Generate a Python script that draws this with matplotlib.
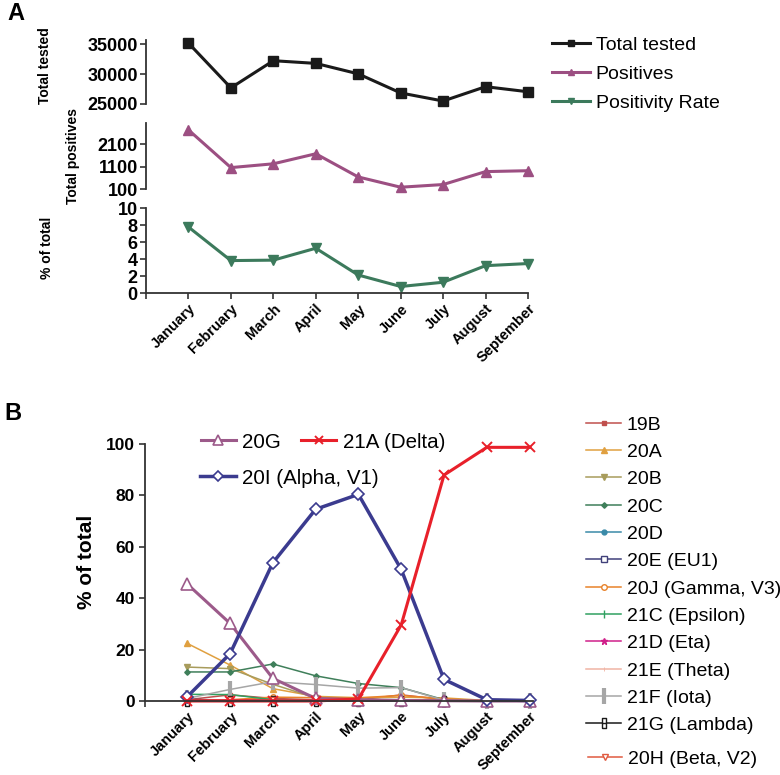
import matplotlib
matplotlib.use('Agg')
import matplotlib.pyplot as plt
from matplotlib.path import Path
import numpy as np

plt.rcParams['font.family'] = ['Liberation Sans', 'DejaVu Sans']

months = ['January', 'February', 'March', 'April', 'May', 'June', 'July', 'August', 'September']

# Panel A
total_tested = [35200, 27700, 32250, 31800, 30050, 26850, 25500, 27900, 27050]
positives = [2750, 1060, 1230, 1680, 640, 180, 300, 880, 920]
positivity_rate = [7.8, 3.85, 3.9, 5.3, 2.15, 0.8, 1.3, 3.25, 3.5]

# Panel B (% of total per clade)
c19B = [0.5, 2.4, 1.0, 0.5, 0.4, 2.4, 0.5, 0.1, 0.2]
c20A = [22.4, 14.0, 4.8, 1.8, 1.3, 1.5, 1.2, 0.2, 0.2]
c20B = [13.2, 12.6, 6.5, 1.2, 0.6, 0.5, 0.5, 0.0, 0.0]
c20C = [11.3, 11.3, 14.4, 9.8, 6.8, 5.2, 0.5, 0.0, 0.0]
c20D = [0.2, 0.3, 0.2, 0.1, 0.0, 0.0, 0.0, 0.0, 0.0]
c20E = [0.6, 0.4, 0.3, 0.2, 0.1, 0.0, 0.0, 0.0, 0.0]
c20J = [0.0, 0.5, 1.5, 1.3, 1.2, 2.2, 0.8, 0.1, 0.5]
c21C = [2.6, 2.5, 0.5, 0.2, 0.1, 0.0, 0.0, 0.0, 0.0]
c21D = [0.0, 0.4, 0.2, 0.2, 0.1, 0.1, 0.0, 0.0, 0.0]
c21E = [0.0, 0.0, 0.0, 0.0, 0.0, 0.0, 0.0, 0.0, 0.0]
c21F = [1.0, 4.5, 7.5, 6.4, 5.0, 5.2, 0.3, 0.0, 0.0]
c21G = [0.0, 0.0, 0.0, 0.0, 0.0, 0.0, 0.0, 0.0, 0.0]
c20H = [0.3, 0.3, 0.3, 0.2, 0.1, 0.5, 0.1, 0.0, 0.0]
c20G = [45.5, 30.2, 8.8, 1.0, 0.5, 0.2, 0.1, 0.0, 0.0]
c20I = [1.7, 18.4, 53.8, 74.6, 80.4, 51.2, 8.4, 0.5, 0.2]
c21A = [0.0, 0.0, 0.0, 0.0, 0.8, 29.6, 87.9, 98.7, 98.7]

W, H = 780, 775
fig = plt.figure(figsize=(W / 100, H / 100), dpi=100)
fig.patch.set_facecolor('white')


def box(x0, y0, x1, y1):
    return [x0 / W, 1 - y1 / H, (x1 - x0) / W, (y1 - y0) / H]


SPC = '#333333'
x = np.arange(len(months))


def style(ax, bottom=True):
    for s in ['top', 'right']:
        ax.spines[s].set_visible(False)
    ax.spines['left'].set_color(SPC)
    ax.spines['left'].set_linewidth(1.3)
    ax.spines['bottom'].set_color(SPC)
    ax.spines['bottom'].set_linewidth(1.3)
    ax.tick_params(direction='out', length=4, width=1.2, color=SPC, pad=2)
    if not bottom:
        ax.spines['bottom'].set_visible(False)
        ax.set_xticks([])


def boldify(labels):
    for lab in labels:
        lab.set_fontweight('bold')


ax1 = fig.add_axes(box(146, 39.5, 528, 104))
ax2 = fig.add_axes(box(146, 123, 528, 189))
ax3 = fig.add_axes(box(146, 208.3, 528, 293.3))

for ax in (ax1, ax2, ax3):
    ax.set_xlim(-1, 8)
    ax.set_facecolor('none')
style(ax1, False)
style(ax2, False)
style(ax3, True)

BLACK = '#1a1a1a'
MAUVE = '#9c4f82'
GREEN = '#3c7a5c'

l1, = ax1.plot(x, total_tested, color=BLACK, lw=2.2, marker='s', ms=6.5, label='Total tested', clip_on=False)
l2, = ax2.plot(x, positives, color=MAUVE, lw=2.2, marker='^', ms=6.5, label='Positives', clip_on=False)
l3, = ax3.plot(x, positivity_rate, color=GREEN, lw=2.2, marker='v', ms=6.5, label='Positivity Rate', clip_on=False)

ax1.set_ylim(25000, 35800)
ax1.set_yticks([25000, 30000, 35000])
ax2.set_ylim(100, 3060)
ax2.set_yticks([100, 1100, 2100])
ax3.set_ylim(0, 10)
ax3.set_yticks([0, 2, 4, 6, 8, 10])
for ax in (ax1, ax2, ax3):
    ax.tick_params(axis='y', labelsize=13)
    boldify(ax.get_yticklabels())

ax3.set_xticks(np.arange(-1, 9))
ax3.set_xticklabels([''] + months, rotation=45, ha='right', va='top',
                    rotation_mode='anchor', fontsize=10.5, fontweight='bold')

fig.text(45 / W, 1 - 66 / H, 'Total tested', rotation=90, ha='center', va='center',
         fontsize=10, fontweight='bold')
fig.text(73 / W, 1 - 156 / H, 'Total positives', rotation=90, ha='center', va='center',
         fontsize=10, fontweight='bold')
fig.text(47 / W, 1 - 248 / H, '% of total', rotation=90, ha='center', va='center',
         fontsize=10, fontweight='bold')
fig.text(16 / W, 1 - 13 / H, 'A', ha='center', va='center', fontsize=17, fontweight='bold')
fig.text(13 / W, 1 - 413 / H, 'B', ha='center', va='center', fontsize=17, fontweight='bold')

legA = fig.legend(handles=[l1, l2, l3], loc='upper left', bbox_to_anchor=(552 / W, 1 - 36 / H),
                  frameon=False, fontsize=14, borderpad=0, borderaxespad=0,
                  handlelength=1.95, handletextpad=0.3, labelspacing=0.6, markerscale=0.75)

# Panel B
axB = fig.add_axes(box(144.5, 444, 533, 701))
style(axB, True)
axB.set_xlim(-1, 8.08)
axB.set_ylim(0, 100)
axB.set_yticks([0, 20, 40, 60, 80, 100])
axB.tick_params(axis='y', labelsize=12.5, pad=3)
boldify(axB.get_yticklabels())
axB.set_xticks(np.arange(-1, 9))
axB.set_xticklabels([''] + months, rotation=45, ha='right', va='top',
                    rotation_mode='anchor', fontsize=10.5, fontweight='bold')
fig.text(86 / W, 1 - 562 / H, '% of total', rotation=90, ha='center', va='center',
         fontsize=15, fontweight='bold')

lam_marker = Path([(-0.45, -1), (0.45, -1), (0.45, 1), (-0.45, 1), (-0.45, -1), (-0.45, 0), (0.45, 0)],
                  [Path.MOVETO, Path.LINETO, Path.LINETO, Path.LINETO, Path.LINETO, Path.MOVETO, Path.LINETO])

minor = [
    ('19B', c19B, dict(color='#c0504d', marker='s', ms=3.5)),
    ('20A', c20A, dict(color='#e0a040', marker='^', ms=4)),
    ('20B', c20B, dict(color='#a89c5c', marker='v', ms=4)),
    ('20C', c20C, dict(color='#3f7f5a', marker='D', ms=2.8)),
    ('20D', c20D, dict(color='#3a8aa8', marker='o', ms=3.5)),
    ('20E (EU1)', c20E, dict(color='#40407a', marker='s', ms=4, mfc='white')),
    ('20J (Gamma, V3)', c20J, dict(color='#e8822a', marker='o', ms=4, mfc='white')),
    ('21C (Epsilon)', c21C, dict(color='#30a060', marker='|', ms=6, mew=1)),
    ('21D (Eta)', c21D, dict(color='#d0208a', marker='*', ms=5)),
    ('21E (Theta)', c21E, dict(color='#f0b4a4', marker='|', ms=3, mew=0.6)),
    ('21F (Iota)', c21F, dict(color='#a6a6a6', marker='|', ms=11, mew=3)),
    ('21G (Lambda)', c21G, dict(color='#1a1a1a', marker=lam_marker, ms=6.5, mfc='white', mew=1)),
]
handles_minor = []
for name, vals, kw in minor:
    h, = axB.plot(x, vals, lw=1.1, label=name, clip_on=False, **kw)
    handles_minor.append(h)
h20H, = axB.plot(x, c20H, lw=1.1, color='#e05a40', marker='v', ms=5, mfc='white',
                 label='20H (Beta, V2)', clip_on=False)

h20G, = axB.plot(x, c20G, lw=2.2, color='#9c5a8a', marker='^', ms=8, mfc='white', mew=1.2,
                 label='20G', clip_on=False)
h20I, = axB.plot(x, c20I, lw=2.5, color='#3b3b8f', marker='D', ms=6.5, mfc='white', mew=1.2,
                 label='20I (Alpha, V1)', clip_on=False)
h21A, = axB.plot(x, c21A, lw=2.2, color='#e8202a', marker='x', ms=7, mew=1.4,
                 label='21A (Delta)', clip_on=False)

legB1 = fig.legend(handles=[h20G, h21A], loc='center left', bbox_to_anchor=(201 / W, 1 - 442 / H),
                   ncol=2, frameon=False, fontsize=14.8, borderpad=0, borderaxespad=0,
                   handlelength=1.7, handletextpad=0.3, columnspacing=1.0, markerscale=0.85)
legB2 = fig.legend(handles=[h20I], loc='center left', bbox_to_anchor=(200 / W, 1 - 478 / H),
                   frameon=False, fontsize=14.8, borderpad=0, borderaxespad=0,
                   handlelength=1.75, handletextpad=0.3, markerscale=0.85)
legR = fig.legend(handles=handles_minor, loc='upper left', bbox_to_anchor=(586 / W, 1 - 416 / H),
                  frameon=False, fontsize=14, borderpad=0, borderaxespad=0,
                  handlelength=1.8, handletextpad=0.3, labelspacing=0.5)
legR2 = fig.legend(handles=[h20H], loc='center left', bbox_to_anchor=(588 / W, 1 - 759 / H),
                   frameon=False, fontsize=14, borderpad=0, borderaxespad=0,
                   handlelength=1.75, handletextpad=0.3)

fig.savefig('out.png', dpi=100, facecolor='white')
